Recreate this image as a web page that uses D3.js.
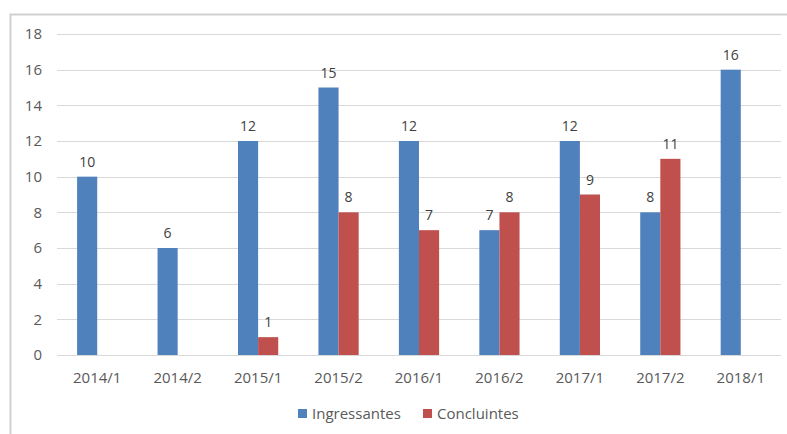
<!DOCTYPE html>
<html>
  <head>
    <script src="https://d3js.org/d3.v7.min.js"></script>
    <style>
      body { margin: 0; background: #fff; }
      text { font-family: "Open Sans", Lato, sans-serif; }
      .axis text { font-size: 15px; fill: #595959; }
      .value { font-size: 14px; fill: #404040; }
      .legend text { font-size: 15px; fill: #595959; }
    </style>
  </head>
  <body>
    <svg width="787" height="434"></svg>
    <script>
      const semesters = ["2014/1", "2014/2", "2015/1", "2015/2", "2016/1", "2016/2", "2017/1", "2017/2", "2018/1"];
      const ingressantes = [10, 6, 12, 15, 12, 7, 12, 8, 16];
      const concluintes = [null, null, 1, 8, 7, 8, 9, 11, null];
      const yTicks = [0, 2, 4, 6, 8, 10, 12, 14, 16, 18];
      const seriesNames = ["Ingressantes", "Concluintes"];
      const colors = ["#4F81BD", "#C0504D"];

      const svg = d3.select("svg");

      // frame of the chart area
      svg.append("path")
        .attr("d", "M10.5,434 V14.5 H787")
        .attr("fill", "none")
        .attr("stroke", "#D0D0D0")
        .attr("stroke-width", 2);

      const plotLeft = 57, plotRight = 781, plotTop = 34, plotBottom = 355;

      const x = d3.scaleBand()
        .domain(semesters)
        .range([plotLeft, plotRight]);
      const barW = x.bandwidth() * 0.25;

      const y = d3.scaleLinear()
        .domain([0, 18])
        .range([plotBottom, plotTop]);

      // gridlines
      svg.append("g")
        .selectAll("line")
        .data(yTicks)
        .join("line")
          .attr("x1", plotLeft)
          .attr("x2", plotRight)
          .attr("y1", d => Math.round(y(d)) + 0.5)
          .attr("y2", d => Math.round(y(d)) + 0.5)
          .attr("stroke", "#D9D9D9");

      // y labels
      svg.append("g")
        .attr("class", "axis")
        .selectAll("text")
        .data(yTicks)
        .join("text")
          .attr("x", 42)
          .attr("y", d => y(d))
          .attr("dy", "0.35em")
          .attr("text-anchor", "end")
          .text(d => d);

      // x labels
      svg.append("g")
        .attr("class", "axis")
        .selectAll("text")
        .data(semesters)
        .join("text")
          .attr("x", d => x(d) + x.bandwidth() / 2)
          .attr("y", plotBottom + 28)
          .attr("text-anchor", "middle")
          .text(d => d);

      const series = [ingressantes, concluintes];
      series.forEach((values, s) => {
        const pts = semesters
          .map((c, i) => ({ c: c, v: values[i] }))
          .filter(d => d.v != null);
        const g = svg.append("g");
        const bx = d => x(d.c) + x.bandwidth() / 2 + (s === 0 ? -barW : 0);
        g.selectAll("rect")
          .data(pts)
          .join("rect")
            .attr("x", bx)
            .attr("y", d => y(d.v))
            .attr("width", barW)
            .attr("height", d => y(0) - y(d.v))
            .attr("fill", colors[s]);
        g.selectAll("text")
          .data(pts)
          .join("text")
            .attr("class", "value")
            .attr("x", d => bx(d) + barW / 2)
            .attr("y", d => y(d.v) - 10)
            .attr("text-anchor", "middle")
            .text(d => d.v);
      });

      // legend
      const legend = svg.append("g").attr("class", "legend");
      const legendX = [298, 423];
      seriesNames.forEach((name, i) => {
        legend.append("rect")
          .attr("x", legendX[i])
          .attr("y", 409)
          .attr("width", 9)
          .attr("height", 9)
          .attr("fill", colors[i]);
        legend.append("text")
          .attr("x", legendX[i] + 14)
          .attr("y", 419)
          .text(name);
      });
    </script>
  </body>
</html>
